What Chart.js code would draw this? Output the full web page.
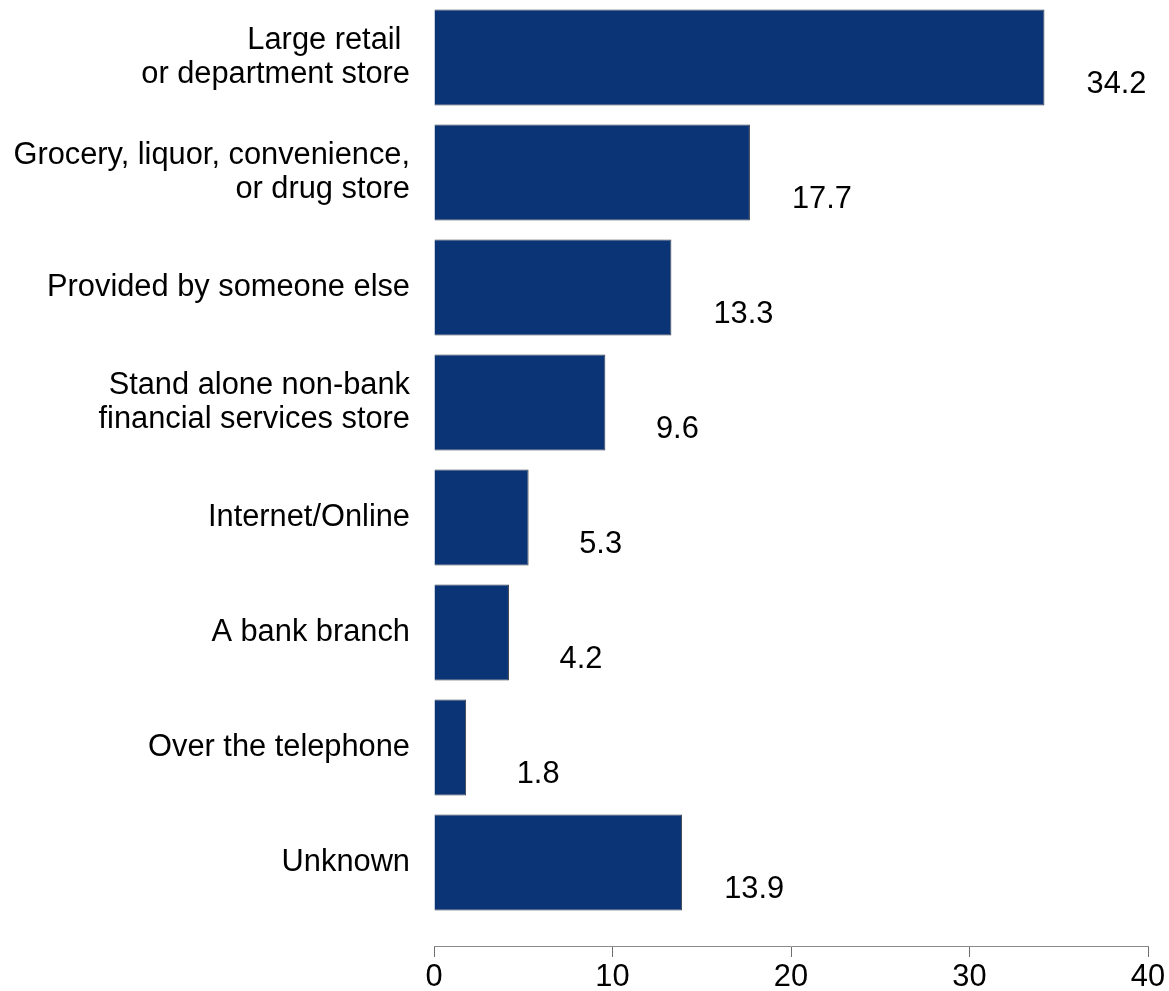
<!DOCTYPE html>
<html>
<head>
<meta charset="utf-8">
<script src="https://cdn.jsdelivr.net/npm/chart.js@4"></script>
<style>
  html, body { margin: 0; padding: 0; background: #fff; }
  #wrap { width: 1169px; height: 991px; position: relative; }
</style>
</head>
<body>
<div id="wrap"><canvas id="c"></canvas></div>
<script>
// Where the product was obtained (percent)
const categories = [
  ['Large retail ', 'or department store'],
  ['Grocery, liquor, convenience,', 'or drug store'],
  'Provided by someone else',
  ['Stand alone non-bank', 'financial services store'],
  'Internet/Online',
  'A bank branch',
  'Over the telephone',
  'Unknown'
];
const values = [34.2, 17.7, 13.3, 9.6, 5.3, 4.2, 1.8, 13.9];
const xTicks = [0, 10, 20, 30, 40];

const FONT = '"Liberation Sans", Arial, Helvetica, sans-serif';
const FONT_SIZE = 30.8;

// Writes each value to the right of its bar, a little below the bar centre
const valueLabels = {
  id: 'valueLabels',
  afterDatasetsDraw(chart) {
    const ctx = chart.ctx;
    const meta = chart.getDatasetMeta(0);
    ctx.save();
    ctx.font = FONT_SIZE + 'px ' + FONT;
    ctx.fillStyle = '#000';
    ctx.textAlign = 'center';
    ctx.textBaseline = 'middle';
    meta.data.forEach((bar, i) => {
      ctx.fillText(values[i].toFixed(1), bar.x + 72, bar.y + 27);
    });
    ctx.restore();
  }
};

new Chart(document.getElementById('c'), {
  type: 'bar',
  data: {
    datasets: [{
      data: values.map((v, i) => ({ x: v, y: i })),
      backgroundColor: '#0B3476',
      borderColor: '#3b3f4a',
      borderWidth: 1,
      barPercentage: 0.835,
      categoryPercentage: 1
    }]
  },
  options: {
    indexAxis: 'y',
    responsive: true,
    maintainAspectRatio: false,
    animation: false,
    layout: { padding: { top: 0, right: 21, bottom: 0, left: 0 } },
    plugins: { legend: { display: false }, tooltip: { enabled: false } },
    scales: {
      x: {
        type: 'linear',
        position: 'bottom',
        min: 0,
        max: 40,
        afterBuildTicks(scale) { scale.ticks = xTicks.map(v => ({ value: v })); },
        afterFit(scale) { scale.height = 45; },
        grid: { drawOnChartArea: false, drawTicks: true, tickLength: 11, color: '#6e6e6e', lineWidth: 1 },
        border: { display: true, color: '#8a8a8a', width: 1 },
        ticks: { color: '#000', font: { family: FONT, size: FONT_SIZE }, padding: 2, maxRotation: 0 }
      },
      y: {
        type: 'linear',
        reverse: true,
        offset: false,
        bounds: 'data',
        min: -0.5,
        max: 7.726,
        afterBuildTicks(scale) { scale.ticks = categories.map((_, i) => ({ value: i })); },
        afterFit(scale) {
          scale.width = 434;
          scale.paddingTop = 0;
          scale.paddingBottom = 0;
        },
        grid: { display: false, drawTicks: false, offset: false },
        border: { display: false },
        ticks: {
          color: '#000',
          font: { family: FONT, size: FONT_SIZE, lineHeight: 1.1 },
          padding: 24,
          callback: (v) => categories[v]
        }
      }
    }
  },
  plugins: [valueLabels]
});
</script>
</body>
</html>
